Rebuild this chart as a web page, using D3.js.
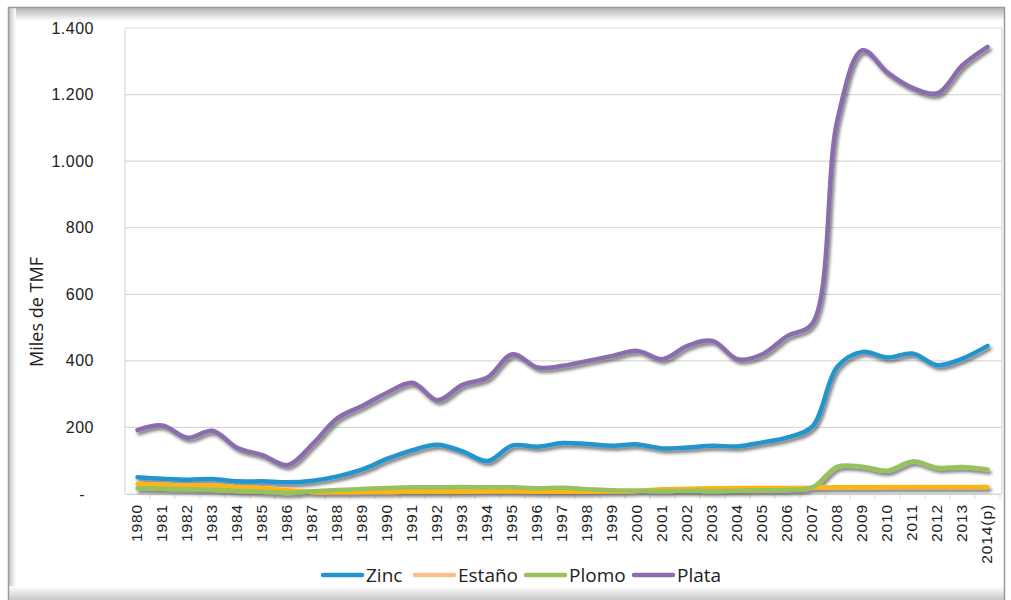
<!DOCTYPE html>
<html><head><meta charset="utf-8">
<script src="https://cdn.jsdelivr.net/npm/d3@7"></script>
<style>
html,body{margin:0;padding:0;background:#fff;}
svg{display:block;font-family:"Open Sans","DejaVu Sans",sans-serif;}
</style></head>
<body>
<svg id="chart" width="1011" height="600"></svg>
<script>
const years = ["1980","1981","1982","1983","1984","1985","1986","1987","1988","1989","1990","1991","1992","1993","1994","1995","1996","1997","1998","1999","2000","2001","2002","2003","2004","2005","2006","2007","2008","2009","2010","2011","2012","2013","2014(p)"];
const zinc   = [50,46,43,45,38,38,35,40,53,74,106,132,148,128,99,146,142,153,150,145,149,137,140,145,143,155,170,203,383,427,410,422,387,407,445];
const estano = [30,28,25,25,20,17,11,6,5,6,6,7,7,7,8,8,7,7,7,8,10,14,16,17,18,18,18,19,20,20,21,21,21,21,21];
const plomo  = [17,16,14,13,9,7,3,8,12,15,18,20,20,21,20,20,17,19,14,11,10,9,10,9,10,11,12,20,82,82,70,98,79,81,74];
const plata  = [192,206,169,190,138,117,87,150,228,265,305,334,282,328,350,420,380,385,400,415,430,405,445,460,405,420,475,513,1125,1333,1266,1220,1204,1288,1343];
const yTicks = [0,200,400,600,800,1000,1200,1400];
const series = [
  {name:"Zinc",   values:zinc,   color:"#2494CE", legend:"#2494CE"},
  {name:"Estaño", values:estano, color:"#FDB515", legend:"#F9BE8F"},
  {name:"Plomo",  values:plomo,  color:"#97C15B", legend:"#97C15B"},
  {name:"Plata",  values:plata,  color:"#8B6DAD", legend:"#8B6DAD"}
];

const svg = d3.select("#chart");
const defs = svg.append("defs");
const f = defs.append("filter").attr("id","sh").attr("x","-5%").attr("y","-20%").attr("width","110%").attr("height","140%");
f.append("feDropShadow").attr("dx",2).attr("dy",3).attr("stdDeviation",1.6).attr("flood-color","#222").attr("flood-opacity",0.55);
const gTop = defs.append("linearGradient").attr("id","gt").attr("x1",0).attr("y1",0).attr("x2",0).attr("y2",1);
gTop.append("stop").attr("offset",0).attr("stop-color","#b5b5b5");
gTop.append("stop").attr("offset",1).attr("stop-color","#fff");
const gLeft = defs.append("linearGradient").attr("id","gl").attr("x1",0).attr("y1",0).attr("x2",1).attr("y2",0);
gLeft.append("stop").attr("offset",0).attr("stop-color","#bcbcbc");
gLeft.append("stop").attr("offset",1).attr("stop-color","#fff");
const gBot = defs.append("linearGradient").attr("id","gb").attr("x1",0).attr("y1",0).attr("x2",0).attr("y2",1);
gBot.append("stop").attr("offset",0).attr("stop-color","#fff");
gBot.append("stop").attr("offset",1).attr("stop-color","#c8c8c8");

// frame
svg.append("rect").attr("x",8).attr("y",8).attr("width",996).attr("height",13).attr("fill","url(#gt)");
svg.append("rect").attr("x",8).attr("y",8).attr("width",8).attr("height",588).attr("fill","url(#gl)");
svg.append("rect").attr("x",8).attr("y",586).attr("width",996).attr("height",14).attr("fill","url(#gb)");
svg.append("rect").attr("x",8.5).attr("y",7.5).attr("width",996).attr("height",600).attr("fill","none").attr("stroke","#9a9a9a").attr("stroke-width",1.5);

const pLeft = 125, pRight = 1000, pTop = 28, pBottom = 494;
const x = d3.scaleBand().domain(years).range([pLeft,pRight]);
const y = d3.scaleLinear().domain([0,1400]).range([pBottom,pTop]);

// gridlines
svg.append("g").selectAll("line").data(yTicks).join("line")
  .attr("x1",pLeft).attr("x2",1002).attr("y1",d=>y(d)).attr("y2",d=>y(d))
  .attr("stroke","#d9d9d9").attr("stroke-width",1.2);
svg.append("line").attr("x1",pLeft).attr("x2",pLeft).attr("y1",pTop).attr("y2",pBottom).attr("stroke","#d9d9d9").attr("stroke-width",1.2);
svg.append("line").attr("x1",1002).attr("x2",1002).attr("y1",pTop).attr("y2",pBottom).attr("stroke","#d9d9d9").attr("stroke-width",1.2);

// y axis labels
const yAxis = d3.axisLeft(y).tickValues(yTicks).tickSize(0).tickPadding(0)
  .tickFormat(d => d===0 ? "-" : d3.format(",")(d).replace(/,/g,"."));
const ya = svg.append("g").attr("transform",`translate(${pLeft-31},0)`).call(yAxis);
ya.select(".domain").remove();
ya.selectAll("text").attr("font-size",16).attr("fill","#222").attr("letter-spacing","0.5px");
ya.selectAll(".tick").filter(d=>d===0).select("text").attr("dx",-9);

// x axis
const xAxis = d3.axisBottom(x).tickSize(5).tickSizeOuter(0);
const xa = svg.append("g").attr("transform",`translate(0,${pBottom})`).call(xAxis);
xa.select(".domain").attr("stroke","#d9d9d9").attr("stroke-width",1.2);
xa.selectAll(".tick line").attr("stroke","#d9d9d9").attr("transform",`translate(${x.bandwidth()/2},0)`);
xa.selectAll(".tick text").attr("font-size",15.5).attr("fill","#222").attr("letter-spacing","0.9px")
  .attr("transform","rotate(-90)").attr("text-anchor","end").attr("x",-10).attr("y",-1).attr("dy","0.35em");

// y title
svg.append("text").attr("transform","translate(43,312) rotate(-90)").attr("text-anchor","middle")
  .attr("font-size",18).attr("fill","#222").text("Miles de TMF");

// lines
const line = d3.line().x((d,i)=>x(years[i])+x.bandwidth()/2).y(d=>y(d)).curve(d3.curveCatmullRom.alpha(0.5));
svg.append("g").attr("filter","url(#sh)").selectAll("path").data(series).join("path")
  .attr("d",d=>line(d.values)).attr("fill","none").attr("stroke",d=>d.color)
  .attr("stroke-width",4.5).attr("stroke-linecap","round").attr("stroke-linejoin","round");

// legend
const legX = [323,415,526,634];
const lg = svg.append("g").selectAll("g").data(series).join("g").attr("transform",(d,i)=>`translate(${legX[i]},575)`);
lg.append("line").attr("x1",0).attr("x2",39).attr("y1",0).attr("y2",0).attr("stroke",d=>d.legend).attr("stroke-width",4.5).attr("stroke-linecap","round");
lg.append("text").attr("x",43).attr("y",0).attr("dy","0.36em").attr("font-size",19).attr("fill","#222").text(d=>d.name);
</script>
</body></html>
